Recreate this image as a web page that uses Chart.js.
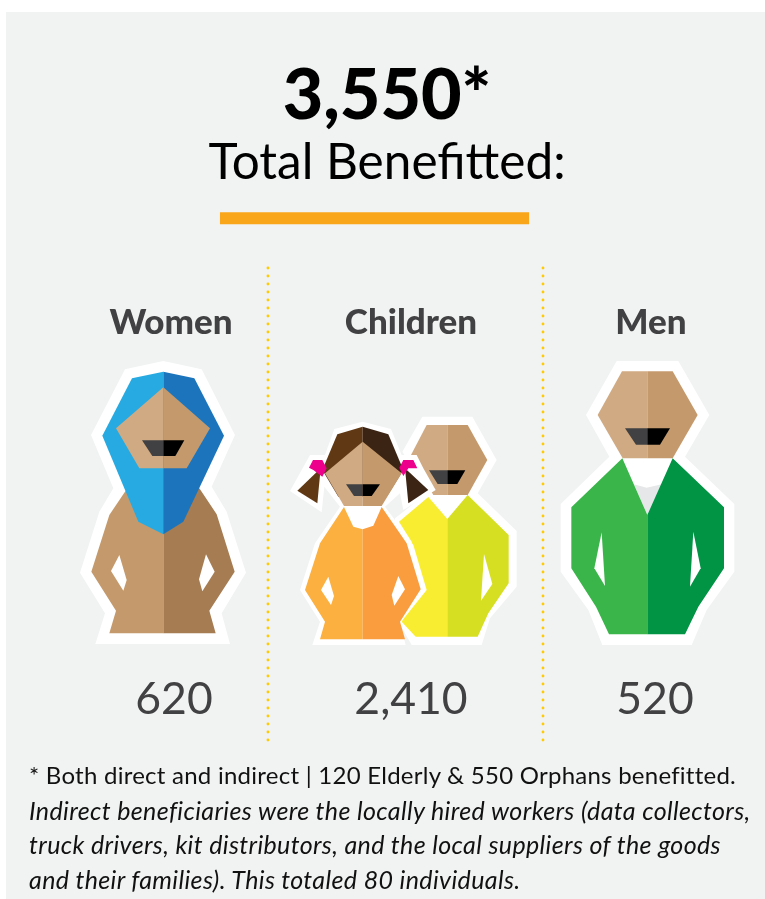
<!DOCTYPE html>
<html>
<head>
<meta charset="utf-8">
<title>Total Benefitted</title>
<script src="https://cdn.jsdelivr.net/npm/chart.js@4"></script>
<style>
  html, body { margin: 0; padding: 0; background: #fff; }
  #panel { position: absolute; left: 6px; top: 12px; width: 759px; height: 887px; background: #f1f2f2; overflow: hidden; }
  #chart { position: absolute; left: 0; top: 0; }
  #note { position: absolute; left: 23px; top: 746px; width: 735px; margin: 0; font: 24px/34.5px Lato, sans-serif; letter-spacing: 0.25px; color: #111; white-space: nowrap; }
  #note em { display: block; font-style: italic; font-size: 25px; letter-spacing: 0.37px; }
</style>
</head>
<body>
<div id="panel">
  <canvas id="chart" width="759" height="887"></canvas>
  <p id="note">* Both direct and indirect | 120 Elderly &amp; 550 Orphans benefitted.<em>Indirect beneficiaries were the locally hired workers (data collectors,<br>truck drivers, kit distributors, and the local suppliers of the goods<br>and their families). This totaled 80 individuals.</em></p>
</div>
<script>
var headline = '3,550*';
var subhead = 'Total Benefitted:';
var categories = ['Women', 'Children', 'Men'];
var values = [620, 2410, 520];
var dividerAt = [0.404, 1.55];
var ruleSpan = [0.204, 1.492];

var SKIN_L = '#d0aa82', SKIN_R = '#c49a6c', MOUTH_L = '#414042', MOUTH_R = '#000';
var HALO = '#fff';

// pictogram outlines, in 3x pixels from each figure's own corner
var womanShapes = [
    [HALO, [280,33, 395,58, 495,255, 425,410, 470,485, 528,668, 455,790, 480,882, 76,882, 105,790, 30,668, 88,485, 130,415, 63,255, 165,58]],
    [SKIN_R, [280,300, 165,425, 118,495, 64,665, 138,782, 118,850, 280,850]],
    ['#a67c52', [280,300, 390,418, 440,493, 494,665, 418,782, 437,850, 280,850]],
    [HALO, [148,615, 123,663, 160,722, 170,690]],
    [HALO, [408,613, 434,665, 397,724, 387,688]],
    ['#27aae1', [280,65, 186,85, 97,257, 205,515, 280,553]],
    ['#1c75bc', [280,65, 373,85, 462,257, 340,515, 280,553]],
    [SKIN_L, [280,112, 138,235, 208,355, 280,355]],
    [SKIN_R, [280,112, 420,235, 350,355, 280,355]],
    [MOUTH_L, [216,271, 280,271, 280,318, 247,318]],
    [MOUTH_R, [280,271, 343,271, 316,318, 280,318]]
];

var childrenShapes = [
    // boy
    [HALO, [412,35, 562,35, 635,165, 578,265, 695,378, 695,545, 615,640, 590,720, 380,720, 340,650, 330,340, 430,262, 352,140]],
    [SKIN_L, [425,60, 487,60, 487,270, 445,270, 378,150]],
    [SKIN_R, [487,60, 548,60, 607,165, 548,270, 487,270]],
    [MOUTH_L, [432,196, 487,196, 487,237, 458,237]],
    [MOUTH_R, [487,196, 541,196, 517,237, 487,237]],
    ['#f9ed32', [430,276, 342,350, 380,410, 405,545, 350,650, 392,695, 487,695, 487,342]],
    ['#d7df23', [548,270, 671,390, 671,535, 610,625, 578,695, 487,695, 487,342]],
    [HALO, [597,447, 622,537, 588,587]],
    // girl
    [HALO, [233,50, 318,72, 350,150, 395,150, 415,190, 452,255, 355,315, 345,265, 300,305, 345,365, 385,420, 425,555, 345,655, 362,720, 82,720, 105,650, 45,555, 90,415, 165,305, 118,245, 110,322, 15,258, 75,150, 120,150, 148,72]],
    ['#603813', [233,65, 157,88, 112,195, 160,275, 233,275]],
    ['#3c2415', [233,65, 310,88, 355,195, 305,275, 233,275]],
    [SKIN_L, [233,110, 120,205, 177,303, 233,303]],
    [SKIN_R, [233,110, 350,205, 290,303, 233,303]],
    [MOUTH_L, [183,238, 233,238, 233,273, 207,273]],
    [MOUTH_R, [233,238, 285,238, 260,273, 233,273]],
    ['#603813', [107,190, 37,257, 97,295]],
    ['#3c2415', [360,190, 430,255, 370,295]],
    ['#ec008c', [84,165, 112,165, 125,190, 112,215, 85,195, 72,188]],
    ['#ec008c', [355,165, 385,165, 397,190, 370,190, 355,213, 343,188]],
    ['#fbb040', [177,306, 105,415, 60,555, 120,650, 105,703, 233,703, 233,373, 205,365]],
    ['#f99d3e', [290,306, 365,415, 407,553, 345,650, 360,703, 233,703, 233,373, 265,362]],
    [HALO, [130,515, 108,555, 138,600, 147,573]],
    [HALO, [340,513, 360,553, 328,602, 320,570]]
];

var manShapes = [
    [HALO, [200,33, 385,33, 478,195, 405,320, 553,462, 553,665, 470,780, 425,885, 157,885, 115,780, 32,665, 32,462, 178,320, 108,195]],
    [SKIN_L, [216,64, 292,64, 292,325, 218,325, 143,195]],
    [SKIN_R, [292,64, 368,64, 443,195, 368,325, 292,325]],
    [MOUTH_L, [225,235, 292,235, 292,284, 258,284]],
    [MOUTH_R, [292,235, 360,235, 330,284, 292,284]],
    ['#e6e7e8', [252,403, 290,413, 335,403, 292,495]],
    ['#39b54a', [217,325, 292,495, 292,853, 177,853, 138,770, 64,655, 64,472]],
    ['#009444', [368,325, 292,495, 292,853, 405,853, 445,770, 522,655, 522,472]],
    [HALO, [155,547, 133,655, 165,708]],
    [HALO, [430,545, 452,655, 420,710]]
];

// one figure per category: shapes, offset from the tick (x) and from the chart bottom (y)
var figures = [
    { shapes: womanShapes, dx: -101, dy: -390 },
    { shapes: childrenShapes, dx: -126, dy: -335 },
    { shapes: manShapes, dx: -101, dy: -390 }
];
var valueNudge = [3, 0, 4];

var pictogramPlugin = {
    id: 'pictograms',
    afterDatasetsDraw: function(chart) {
        var ctx = chart.ctx;
        var points = chart.getDatasetMeta(0).data;
        var bottom = chart.chartArea.bottom;

        figures.forEach(function(fig, i) {
            var ox = points[i].x + fig.dx;
            var oy = bottom + fig.dy;
            fig.shapes.forEach(function(shape) {
                var p = shape[1];
                ctx.beginPath();
                ctx.moveTo(ox + p[0] / 3, oy + p[1] / 3);
                for (var k = 2; k < p.length; k += 2) {
                    ctx.lineTo(ox + p[k] / 3, oy + p[k + 1] / 3);
                }
                ctx.closePath();
                ctx.fillStyle = shape[0];
                ctx.fill();
            });
        });

        ctx.save();
        ctx.font = '44.5px Lato, sans-serif';
        ctx.fillStyle = '#414042';
        ctx.textAlign = 'center';
        ctx.textBaseline = 'middle';
        values.forEach(function(v, i) {
            ctx.fillText(v.toLocaleString('en-US'), points[i].x + valueNudge[i], bottom - 40);
        });
        ctx.restore();
    }
};

function verticalLine(x) {
    return {
        data: [{ x: x, y: 0 }, { x: x, y: 1.191 }],
        showLine: true,
        clip: false,
        pointRadius: 0,
        borderColor: '#ffcb05',
        borderWidth: 2.8,
        borderCapStyle: 'round',
        borderDash: [0, 8]
    };
}

new Chart(document.getElementById('chart'), {
    type: 'scatter',
    data: {
        datasets: [
            {
                label: 'Total benefitted',
                data: categories.map(function(c, i) { return { x: i, y: 0.5 }; }),
                pointRadius: 0
            },
            verticalLine(dividerAt[0]),
            verticalLine(dividerAt[1]),
            {
                data: [{ x: ruleSpan[0], y: 1.315 }, { x: ruleSpan[1], y: 1.315 }],
                showLine: true,
                clip: false,
                pointRadius: 0,
                borderColor: '#f9a61a',
                borderWidth: 12
            }
        ]
    },
    options: {
        responsive: false,
        animation: false,
        layout: { padding: { left: 3, right: 0, top: 0, bottom: 159 } },
        plugins: {
            legend: { display: false },
            tooltip: { enabled: false },
            title: {
                display: true,
                text: headline,
                color: '#000',
                font: { family: 'Lato', size: 70, weight: '900', lineHeight: 1 },
                padding: { top: 49, bottom: 0 }
            },
            subtitle: {
                display: true,
                text: subhead,
                color: '#000',
                font: { family: 'Lato', size: 49.5, weight: '400', lineHeight: 1 },
                padding: { top: 7.75, bottom: 113 }
            }
        },
        scales: {
            x: {
                type: 'linear',
                position: 'top',
                min: -0.675,
                max: 2.475,
                border: { display: false },
                grid: { display: false, drawTicks: false },
                afterBuildTicks: function(axis) {
                    axis.ticks = categories.map(function(c, i) { return { value: i }; });
                },
                ticks: {
                    autoSkip: false,
                    maxRotation: 0,
                    padding: 0,
                    color: '#414042',
                    font: { family: 'Lato', size: 35, weight: '900' },
                    callback: function(value) { return categories[value]; }
                }
            },
            y: { display: false, min: 0, max: 1 }
        }
    },
    plugins: [pictogramPlugin]
});
</script>
</body>
</html>
